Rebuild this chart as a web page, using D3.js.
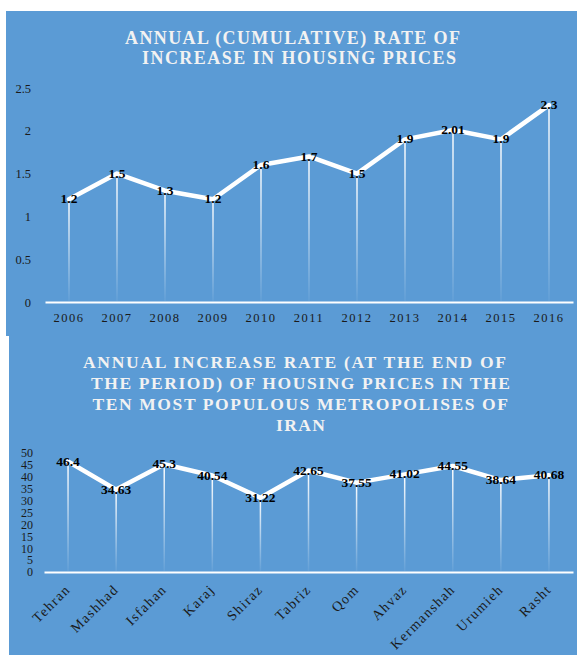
<!DOCTYPE html>
<html><head><meta charset="utf-8">
<script src="https://cdn.jsdelivr.net/npm/d3@7"></script>
<style>html,body{margin:0;padding:0;background:#fff;}svg{display:block;}</style>
</head><body>
<svg id="c" width="577" height="655"></svg>
<script>
const years = ["2006","2007","2008","2009","2010","2011","2012","2013","2014","2015","2016"];
const cumulativeRate = [1.2,1.5,1.3,1.2,1.6,1.7,1.5,1.9,2.01,1.9,2.3];
const yTicks1 = [0,0.5,1,1.5,2,2.5];
const title1 = ["ANNUAL (CUMULATIVE) RATE OF", "INCREASE IN HOUSING PRICES"];

const cities = ["Tehran","Mashhad","Isfahan","Karaj","Shiraz","Tabriz","Qom","Ahvaz","Kermanshah","Urumieh","Rasht"];
const cityRate = [46.4,34.63,45.3,40.54,31.22,42.65,37.55,41.02,44.55,38.64,40.68];
const yTicks2 = [0,5,10,15,20,25,30,35,40,45,50];
const title2 = ["ANNUAL INCREASE RATE (AT THE END OF", "THE PERIOD) OF HOUSING PRICES IN THE", "TEN MOST POPULOUS METROPOLISES OF", "IRAN"];

const svg = d3.select("#c");
const FONT = "'Liberation Serif','Times New Roman',serif";
const BLUE = "#5b9bd5";

const defs = svg.append("defs");
const grad = defs.append("linearGradient").attr("id","drop").attr("x1",0).attr("y1",0).attr("x2",0).attr("y2",1);
grad.append("stop").attr("offset","0%").attr("stop-color","#fff").attr("stop-opacity",1);
grad.append("stop").attr("offset","100%").attr("stop-color","#fff").attr("stop-opacity",0.05);

function panel(o){
  const g = svg.append("g");
  g.append("rect").attr("x",o.px).attr("y",o.py).attr("width",o.pw).attr("height",o.ph).attr("fill",BLUE);
  g.selectAll("text.title").data(o.title).join("text")
    .attr("class","title")
    .attr("x",(d,i)=>o.tbox[i][0]).attr("y",(d,i)=>o.tbox[i][2])
    .attr("textLength",(d,i)=>o.tbox[i][1]-o.tbox[i][0])
    .attr("lengthAdjust","spacing")
    .attr("fill","#f2f2f2").attr("font-family",FONT).attr("font-weight","bold")
    .attr("font-size",o.tfs)
    .text(d=>d);

  const x = d3.scaleBand().domain(o.cats).range([o.x0,o.x1]);
  const y = d3.scaleLinear().domain([0,o.ymax]).range([o.y0,o.yTop]);

  // y axis labels
  const ya = g.append("g").attr("transform",`translate(${o.ylx},0)`)
    .call(d3.axisLeft(y).tickValues(o.yt).tickSize(0).tickPadding(0).tickFormat(d=>String(d)));
  ya.select(".domain").remove();
  ya.selectAll("text").attr("font-family",FONT).attr("font-size",o.yfs).attr("fill","#1a1a1a");

  // x axis
  const xa = g.append("g").attr("transform",`translate(0,${o.y0})`)
    .call(d3.axisBottom(x).tickSize(0).tickPadding(0));
  xa.select(".domain").attr("stroke","#fff").attr("stroke-width",2);
  xa.selectAll("text").attr("font-family",FONT).attr("font-size",o.xfs).attr("fill","#1a1a1a")
    .attr("letter-spacing",o.xls);
  o.xlab(xa.selectAll(".tick text"));

  // drop lines
  g.selectAll("rect.drop").data(o.vals).join("rect").attr("class","drop")
    .attr("x",(d,i)=>x(o.cats[i])+x.bandwidth()/2-0.75)
    .attr("y",d=>y(d))
    .attr("width",1.5)
    .attr("height",d=>o.y0-1-y(d))
    .attr("fill","url(#drop)");

  // line
  const line = d3.line().x((d,i)=>x(o.cats[i])+x.bandwidth()/2).y(d=>y(d));
  g.append("path").datum(o.vals).attr("d",line).attr("fill","none")
    .attr("stroke","#fff").attr("stroke-width",4.5).attr("stroke-linejoin","round").attr("stroke-linecap","round");

  // labels
  g.selectAll("text.val").data(o.vals).join("text").attr("class","val")
    .attr("x",(d,i)=>x(o.cats[i])+x.bandwidth()/2)
    .attr("y",d=>y(d)+1)
    .attr("text-anchor","middle").attr("dominant-baseline","middle")
    .attr("font-family",FONT).attr("font-weight","bold").attr("font-size",o.vfs).attr("fill","#000")
    .text(d=>String(d));
}

panel({px:6,py:11,pw:571,ph:325,title:title1,tfs:18,
  tbox:[[125,460,44],[142,456,64]],
  cats:years,vals:cumulativeRate,x0:45,x1:573,y0:302,yTop:88,ymax:2.5,yt:yTicks1,ylx:31,yfs:12.5,xfs:12.5,xls:"1.5px",vfs:13.5,
  xlab:sel=>sel.attr("dy",null).attr("y",17).attr("dominant-baseline","middle")});

panel({px:9,py:336,pw:568,ph:319,title:title2,tfs:17.5,
  tbox:[[83,506,367.5],[91,510,389],[92.5,508,410],[276,325,431]],
  cats:cities,vals:cityRate,x0:44,x1:573,y0:572,yTop:453,ymax:50,yt:yTicks2,ylx:33,yfs:12,xfs:14,xls:"1.4px",vfs:13.5,
  xlab:sel=>sel.attr("dy",null).attr("y",0).attr("text-anchor","end").attr("dominant-baseline","middle")
    .attr("transform","translate(1,16) rotate(-45)")});
</script>
</body></html>
